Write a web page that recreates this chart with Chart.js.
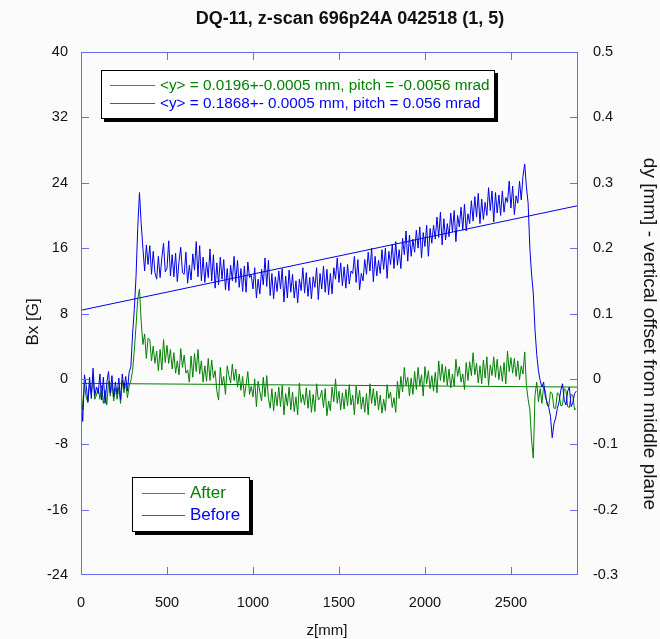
<!DOCTYPE html>
<html lang="en">
<head>
  <meta charset="UTF-8">
  <title>DQ-11 z-scan</title>
  <script src="https://cdn.jsdelivr.net/npm/chart.js"></script>
  <style>
    body { margin: 0; background: #fbfbfb; font-family: Arial, "Liberation Sans", sans-serif; }
    #wrap { position: relative; width: 660px; height: 639px; }
    .txt { position: absolute; white-space: nowrap; color: #111; }
    .rot { transform-origin: center center; }
    .box { position: absolute; background: #fff; border: 1px solid #000; box-shadow: 3px 3px 0 #000; }
    .sample { position: absolute; height: 0; border-top: 1px solid; }
  </style>
</head>
<body>
<div id="wrap">
  <canvas id="chart" width="660" height="639"></canvas>

  <div class="txt" style="left:0; width:700px; top:8px; text-align:center; font-weight:bold; font-size:18px;">DQ-11, z-scan 696p24A 042518 (1, 5)</div>
  <div class="txt rot" style="left:-17px; top:312px; width:100px; text-align:center; font-size:17px; transform:rotate(-90deg);">Bx [G]</div>
  <div class="txt rot" style="left:450px; top:323px; width:400px; text-align:center; font-size:19px; transform:rotate(90deg);">dy [mm] - vertical offset from middle plane</div>
  <div class="txt" style="left:277px; width:100px; top:621px; text-align:center; font-size:15px;">z[mm]</div>

  <div class="box" style="left:101px; top:70px; width:392px; height:47px;"></div>
  <div class="sample" style="left:110px; top:85px; width:45px; border-color:#2e9a2e;"></div>
  <div class="txt" style="left:160px; top:76px; font-size:15.3px; color:#008000;">&lt;y&gt; = 0.0196+-0.0005 mm, pitch = -0.0056 mrad</div>
  <div class="sample" style="left:110px; top:103px; width:45px; border-color:#4646ff;"></div>
  <div class="txt" style="left:160px; top:94px; font-size:15.3px; color:#0000ff;">&lt;y&gt; = 0.1868+- 0.0005 mm, pitch = 0.056 mrad</div>

  <div class="box" style="left:132px; top:477px; width:116px; height:53px;"></div>
  <div class="sample" style="left:142px; top:493px; width:43px; border-color:#2e9a2e;"></div>
  <div class="txt" style="left:190px; top:483px; font-size:17px; color:#008000;">After</div>
  <div class="sample" style="left:142px; top:515px; width:43px; border-color:#4646ff;"></div>
  <div class="txt" style="left:190px; top:505px; font-size:17px; color:#0000ff;">Before</div>
</div>

<script>
  // z positions [mm] shared by both scans
  const zPos = [
    0, 10, 20, 30, 40, 50, 60, 70, 80, 90,
    100, 110, 120, 130, 140, 150, 160, 170, 180, 190,
    200, 210, 220, 230, 240, 250, 260, 270, 280, 290,
    300, 310, 320, 330, 340, 350, 360, 370, 380, 390,
    400, 410, 420, 430, 440, 450, 460, 470, 480, 490,
    500, 510, 520, 530, 540, 550, 560, 570, 580, 590,
    600, 610, 620, 630, 640, 650, 660, 670, 680, 690,
    700, 710, 720, 730, 740, 750, 760, 770, 780, 790,
    800, 810, 820, 830, 840, 850, 860, 870, 880, 890,
    900, 910, 920, 930, 940, 950, 960, 970, 980, 990,
    1000, 1010, 1020, 1030, 1040, 1050, 1060, 1070, 1080, 1090,
    1100, 1110, 1120, 1130, 1140, 1150, 1160, 1170, 1180, 1190,
    1200, 1210, 1220, 1230, 1240, 1250, 1260, 1270, 1280, 1290,
    1300, 1310, 1320, 1330, 1340, 1350, 1360, 1370, 1380, 1390,
    1400, 1410, 1420, 1430, 1440, 1450, 1460, 1470, 1480, 1490,
    1500, 1510, 1520, 1530, 1540, 1550, 1560, 1570, 1580, 1590,
    1600, 1610, 1620, 1630, 1640, 1650, 1660, 1670, 1680, 1690,
    1700, 1710, 1720, 1730, 1740, 1750, 1760, 1770, 1780, 1790,
    1800, 1810, 1820, 1830, 1840, 1850, 1860, 1870, 1880, 1890,
    1900, 1910, 1920, 1930, 1940, 1950, 1960, 1970, 1980, 1990,
    2000, 2010, 2020, 2030, 2040, 2050, 2060, 2070, 2080, 2090,
    2100, 2110, 2120, 2130, 2140, 2150, 2160, 2170, 2180, 2190,
    2200, 2210, 2220, 2230, 2240, 2250, 2260, 2270, 2280, 2290,
    2300, 2310, 2320, 2330, 2340, 2350, 2360, 2370, 2380, 2390,
    2400, 2410, 2420, 2430, 2440, 2450, 2460, 2470, 2480, 2490,
    2500, 2510, 2520, 2530, 2540, 2550, 2560, 2570, 2580, 2590,
    2600, 2610, 2620, 2630, 2640, 2650, 2660, 2670, 2680, 2690,
    2700, 2710, 2720, 2730, 2740, 2750, 2760, 2770, 2780, 2790,
    2800, 2810, 2820, 2830, 2840, 2850, 2860, 2870, 2880
  ];

  // Bx [G] before the shim
  const bxBefore = [
    -2.0, -5.2, 0.5, -0.8, -2.8, 0.2, -2.4, 1.3, -2.1, -1.0,
    -1.8, 0.6, -2.6, 0.2, -3.0, -0.5, 0.9, -1.7, 0.4, -2.2,
    -0.4, -1.9, 0.1, -2.6, 0.6, -1.2, 0.3, -1.5, 0.8, 1.5,
    5.5, 8.5, 12.5, 18.5, 22.8, 19.0, 16.0, 13.2, 16.4, 14.0,
    16.3, 12.8, 15.6, 13.0, 12.2, 15.0, 12.4, 14.8, 16.6, 13.1,
    13.5, 16.9, 12.6, 15.2, 12.5, 15.4, 11.9, 14.4, 16.1, 13.0,
    12.8, 15.5, 11.7, 13.9, 12.1, 15.3, 13.3, 16.8, 12.5, 16.3,
    12.0, 14.9, 11.8, 14.3, 12.4, 15.9, 12.0, 15.2, 11.1, 14.2,
    11.5, 14.9, 12.2, 14.6, 10.9, 13.5, 10.8, 13.9, 12.0, 15.0,
    11.8, 14.5, 11.2, 13.5, 10.7, 13.8, 10.6, 14.3, 12.4, 12.7,
    11.0, 13.6, 9.9, 12.2, 10.4, 13.4, 11.5, 14.8, 11.3, 14.5,
    10.2, 12.9, 9.8, 12.5, 10.7, 13.2, 11.0, 13.5, 9.4, 12.6,
    9.9, 13.3, 10.6, 12.8, 9.9, 12.0, 9.3, 12.2, 10.8, 13.6,
    10.5, 13.0, 10.1, 12.4, 9.8, 12.5, 11.2, 13.6, 9.7, 12.9,
    11.0, 13.8, 10.6, 13.4, 10.3, 12.9, 10.4, 13.6, 12.2, 14.8,
    11.8, 14.2, 11.4, 13.7, 11.1, 14.0, 11.6, 13.2, 12.9, 15.0,
    11.8, 14.6, 10.9, 12.9, 12.0, 14.6, 12.8, 15.5, 13.2, 16.0,
    11.9, 15.0, 12.6, 14.5, 12.9, 15.8, 13.4, 16.0, 12.3, 15.6,
    14.0, 16.5, 13.5, 16.8, 13.9, 15.8, 13.5, 17.2, 15.2, 18.1,
    14.4, 17.6, 15.0, 17.1, 15.5, 18.2, 16.0, 18.6, 14.8, 17.9,
    16.2, 18.8, 15.0, 18.4, 16.6, 18.8, 17.1, 19.8, 17.3, 20.4,
    16.4, 19.6, 17.0, 19.0, 17.4, 20.3, 18.0, 20.6, 16.8, 20.0,
    18.6, 21.0, 18.2, 21.4, 18.1, 20.2, 19.0, 21.8, 19.3, 22.3,
    19.8, 22.7, 19.0, 22.0, 19.5, 21.6, 20.0, 23.4, 20.6, 23.0,
    19.2, 22.8, 20.3, 22.5, 20.0, 23.0, 20.4, 22.2, 21.6, 24.2,
    20.9, 23.6, 20.1, 22.4, 21.5, 24.2, 21.9, 24.8, 26.3, 23.5,
    21.5, 16.0, 12.8, 10.5, 6.0, 3.0, 1.0, -0.2, -1.0, -0.4,
    -2.2, -2.8, -3.5, -4.6, -7.2, -5.5, -4.8, -3.6, -2.8, -1.4,
    -0.6, -2.6, -3.2, -1.5, -1.0, -3.4, -2.9, -1.8, -1.5
  ];

  // Bx [G] after the shim
  const bxAfter = [
    -1.0, -3.8, -0.6, -2.2, -2.9, -0.5, -1.9, 0.2, -2.5, -2.0,
    -1.1, -2.5, -0.8, -3.0, -1.4, -3.2, -0.3, -2.1, -0.6, -2.7,
    -1.1, -2.5, -1.0, -3.0, -0.2, -1.7, -0.5, -2.3, -0.9, -0.2,
    1.0, 3.5, 6.5, 9.8, 11.0, 7.0, 4.2, 5.5, 2.5, 5.0,
    4.8, 2.2, 4.0, 1.9, 3.4, 1.0, 3.6, 1.1, 4.8, 2.0,
    4.1, 1.9, 3.6, 1.2, 3.2, 0.7, 2.2, 0.5, 3.7, 1.4,
    2.9, 0.7, 1.1, -0.4, 2.8, 0.2, 3.1, 0.9, 3.6, 0.6,
    2.2, -0.4, 1.6, -0.3, 2.5, -0.2, 2.3, 0.1, 1.0, -1.5,
    -2.6, 1.4, -0.8, 0.3, -1.9, 1.6, 0.4, -0.5, 1.8, -0.2,
    1.2, -1.0, 0.6, -1.4, 0.3, -2.2, -0.7, 0.9, -1.9, -0.9,
    -2.2, 0.0, -3.4, -0.3, -1.6, -2.7, 0.2, -2.2, 0.4, -2.4,
    -3.6, -1.2, -3.9, -1.6, -3.3, -1.0, -3.4, -0.8, -4.4, -1.8,
    -3.3, -1.0, -3.8, -1.6, -4.0, -2.2, -4.4, -0.5, -2.9, -1.9,
    -3.2, -1.1, -3.6, -1.4, -4.1, -1.9, -4.0, -0.6, -2.6, -2.3,
    -1.4, -3.5, -1.2, -4.5, -2.7, -3.9, -1.0, -2.8, 0.0, -3.0,
    -1.5, -3.8, -1.7, -3.7, -1.3, -3.3, -0.7, -3.2, -2.0, -4.4,
    -0.9, -3.1, -1.4, -3.7, -2.2, -4.1, -1.8, -4.4, -0.6, -3.0,
    -1.2, -3.3, -1.5, -3.8, -2.0, -4.2, -2.5, -3.9, -0.7, -2.4,
    -1.6, -3.5, -2.3, -4.1, -0.3, -2.4, 0.3, -1.6, 1.4, -0.8,
    0.2, -2.1, 0.1, -1.9, 0.9, -1.3, 1.4, -0.9, 0.5, -2.1,
    1.5, -0.6, 1.0, -1.2, 0.4, -1.5, 0.8, -1.7, 2.2, -0.2,
    1.8, -0.4, 1.5, -0.8, 1.2, -1.1, 0.6, -0.9, 2.4, 0.3,
    1.5, -0.4, 0.6, -1.3, 2.0, -0.2, 2.1, 0.4, 3.2, 0.5,
    1.9, -0.5, 1.6, -0.6, 2.3, 0.1, 2.7, -0.8, 1.7, 0.4,
    2.7, 0.2, 2.4, -0.1, 1.6, -0.3, 2.0, -0.6, 3.4, 0.9,
    2.6, 0.7, 2.5, 0.3, 2.2, -0.1, 1.6, 0.6, 3.3, -0.8,
    -2.5, -3.8, -7.5, -9.7, -2.0, -0.4, -2.8, -1.2, -3.0, -0.9,
    -1.5, -3.2, -3.4, -1.6, -1.8, -3.6, -3.6, -1.7, -1.9, -3.3,
    -3.2, -1.2, -1.4, -3.4, -3.5, -1.9, -2.0, -3.8, -3.6
  ];

  // straight fit lines
  const fitZ = [0, 2890];
  const fitBefore = [8.4, 21.2];
  const fitAfter = [-0.55, -1.0];

  const xTicks = [0, 500, 1000, 1500, 2000, 2500];
  const bxTicks = [-24, -16, -8, 0, 8, 16, 24, 32, 40];

  const axisColor = '#6a6aee';
  const blue = 'rgb(0,0,230)';
  const green = 'rgb(0,128,0)';

  const pts = (xs, ys) => xs.map((x, i) => ({ x: x, y: ys[i] }));

  // frame with inward ticks on all four sides
  const framePlugin = {
    id: 'frame',
    afterDatasetsDraw(chart) {
      const { ctx, chartArea: a, scales } = chart;
      ctx.save();
      ctx.strokeStyle = axisColor;
      ctx.lineWidth = 1;
      ctx.strokeRect(a.left + 0.5, a.top + 0.5, a.right - a.left - 1, a.bottom - a.top - 1);
      ctx.beginPath();
      bxTicks.slice(1, -1).forEach(v => {
        const y = Math.round(scales.y.getPixelForValue(v)) + 0.5;
        ctx.moveTo(a.left, y); ctx.lineTo(a.left + 8, y);
        ctx.moveTo(a.right - 8, y); ctx.lineTo(a.right, y);
      });
      xTicks.slice(1).forEach(v => {
        const x = Math.round(scales.x.getPixelForValue(v)) + 0.5;
        ctx.moveTo(x, a.bottom); ctx.lineTo(x, a.bottom - 8);
        ctx.moveTo(x, a.top); ctx.lineTo(x, a.top + 8);
      });
      ctx.stroke();
      ctx.restore();
    }
  };

  const tickFont = { family: 'Arial, "Liberation Sans"', size: 14.5 };

  new Chart(document.getElementById('chart'), {
    type: 'line',
    data: {
      datasets: [
        { label: 'Before', data: pts(zPos, bxBefore), borderColor: blue, borderWidth: 1, pointRadius: 0 },
        { label: 'After', data: pts(zPos, bxAfter), borderColor: green, borderWidth: 1, pointRadius: 0 },
        { label: 'fit before', data: pts(fitZ, fitBefore), borderColor: blue, borderWidth: 1, pointRadius: 0 },
        { label: 'fit after', data: pts(fitZ, fitAfter), borderColor: green, borderWidth: 1, pointRadius: 0 }
      ]
    },
    options: {
      responsive: false,
      animation: false,
      layout: { padding: { top: 52, left: 0, right: 0, bottom: 0 } },
      plugins: { legend: { display: false }, tooltip: { enabled: false } },
      scales: {
        x: {
          type: 'linear', min: 0, max: 2890,
          grid: { display: false, drawTicks: false }, border: { display: false },
          afterFit: s => { s.height = 64; },
          afterBuildTicks: s => { s.ticks = xTicks.map(v => ({ value: v })); },
          ticks: { font: tickFont, color: '#111', padding: 19, maxRotation: 0, callback: v => String(v) }
        },
        y: {
          type: 'linear', position: 'left', min: -24, max: 40,
          grid: { display: false, drawTicks: false }, border: { display: false },
          afterFit: s => { s.width = 81; },
          afterBuildTicks: s => { s.ticks = bxTicks.map(v => ({ value: v })); },
          ticks: { font: tickFont, color: '#111', padding: 13, callback: v => String(v) }
        },
        y2: {
          type: 'linear', position: 'right', min: -0.3, max: 0.5,
          grid: { display: false, drawTicks: false }, border: { display: false },
          afterFit: s => { s.width = 82; },
          afterBuildTicks: s => { s.ticks = bxTicks.map(v => ({ value: v / 80 })); },
          ticks: { font: tickFont, color: '#111', padding: 15, callback: v => String(Math.round(v * 10) / 10) }
        }
      }
    },
    plugins: [framePlugin]
  });
</script>
</body>
</html>
